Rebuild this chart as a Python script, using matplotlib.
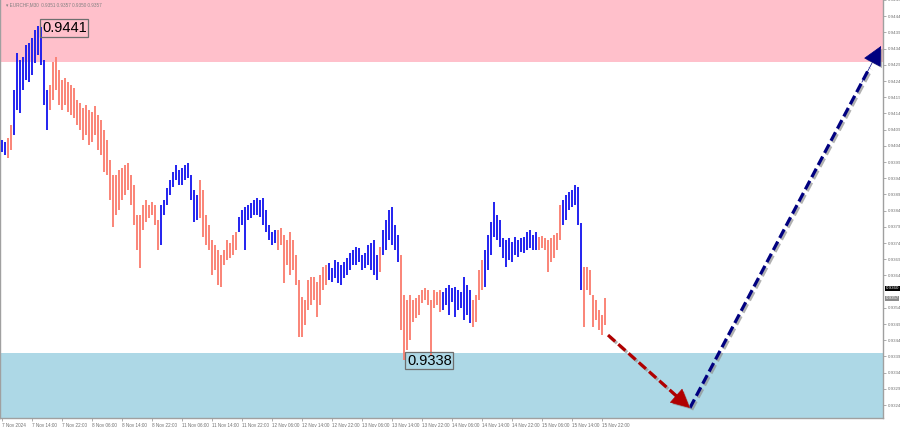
import matplotlib
matplotlib.use("Agg")
import matplotlib.pyplot as plt
import matplotlib.patheffects as pe
import numpy as np

# ---------------- data ----------------
highs = [
    0.94058, 0.94052, 0.94064, 0.94105, 0.94212, 0.94327, 0.94305, 0.94314, 0.94352, 0.94358,
    0.94372, 0.94397, 0.94410, 0.94406, 0.94305, 0.94212, 0.94228, 0.94299, 0.94314, 0.94274,
    0.94243, 0.94249, 0.94237, 0.94228, 0.94218, 0.94181, 0.94172, 0.94156, 0.94166, 0.94150,
    0.94144, 0.94162, 0.94135, 0.94120, 0.94089, 0.94058, 0.93996, 0.93950, 0.93950, 0.93965,
    0.93971, 0.93981, 0.93987, 0.93950, 0.93919, 0.93827, 0.93827, 0.93858, 0.93873, 0.93858,
    0.93867, 0.93858, 0.93811, 0.93858, 0.93873, 0.93909, 0.93934, 0.93959, 0.93981, 0.93965,
    0.93971, 0.93981, 0.93987, 0.93950, 0.93904, 0.93889, 0.93934, 0.93904, 0.93827, 0.93796,
    0.93749, 0.93734, 0.93718, 0.93703, 0.93718, 0.93749, 0.93740, 0.93765, 0.93774, 0.93820,
    0.93842, 0.93851, 0.93858, 0.93864, 0.93873, 0.93879, 0.93873, 0.93879, 0.93842, 0.93796,
    0.93774, 0.93780, 0.93780, 0.93786, 0.93765, 0.93749, 0.93774, 0.93749, 0.93703, 0.93626,
    0.93573, 0.93564, 0.93626, 0.93635, 0.93635, 0.93620, 0.93642, 0.93666, 0.93673, 0.93679,
    0.93663, 0.93688, 0.93682, 0.93673, 0.93682, 0.93693, 0.93709, 0.93718, 0.93727, 0.93724,
    0.93703, 0.93709, 0.93734, 0.93740, 0.93749, 0.93703, 0.93727, 0.93780, 0.93811, 0.93842,
    0.93851, 0.93796, 0.93765, 0.93703, 0.93580, 0.93564, 0.93580, 0.93564, 0.93570, 0.93580,
    0.93595, 0.93601, 0.93595, 0.93564, 0.93595, 0.93589, 0.93595, 0.93589, 0.93601, 0.93611,
    0.93601, 0.93604, 0.93595, 0.93589, 0.93635, 0.93611, 0.93595, 0.93564, 0.93580, 0.93657,
    0.93688, 0.93718, 0.93765, 0.93805, 0.93867, 0.93827, 0.93811, 0.93755, 0.93749, 0.93755,
    0.93743, 0.93758, 0.93749, 0.93755, 0.93758, 0.93774, 0.93780, 0.93765, 0.93774, 0.93758,
    0.93761, 0.93755, 0.93749, 0.93755, 0.93765, 0.93771, 0.93858, 0.93873, 0.93889, 0.93898,
    0.93904, 0.93919, 0.93912, 0.93802, 0.93666, 0.93666, 0.93657, 0.93580, 0.93564, 0.93533,
    0.93518, 0.93570,
]
lows = [
    0.94021, 0.94012, 0.94002, 0.94027, 0.94074, 0.94150, 0.94141, 0.94212, 0.94243, 0.94237,
    0.94259, 0.94296, 0.94321, 0.94290, 0.94166, 0.94089, 0.94150, 0.94181, 0.94212, 0.94166,
    0.94150, 0.94166, 0.94144, 0.94135, 0.94125, 0.94105, 0.94089, 0.94058, 0.94074, 0.94043,
    0.94052, 0.94074, 0.94027, 0.94012, 0.93959, 0.93950, 0.93873, 0.93789, 0.93827, 0.93842,
    0.93873, 0.93889, 0.93904, 0.93858, 0.93796, 0.93718, 0.93663, 0.93780, 0.93805, 0.93817,
    0.93827, 0.93796, 0.93718, 0.93734, 0.93827, 0.93858, 0.93889, 0.93912, 0.93934, 0.93919,
    0.93919, 0.93934, 0.93940, 0.93873, 0.93805, 0.93811, 0.93817, 0.93758, 0.93734, 0.93718,
    0.93642, 0.93657, 0.93611, 0.93604, 0.93673, 0.93688, 0.93693, 0.93703, 0.93718, 0.93774,
    0.93796, 0.93718, 0.93811, 0.93817, 0.93827, 0.93827, 0.93820, 0.93796, 0.93774, 0.93749,
    0.93734, 0.93740, 0.93718, 0.93734, 0.93617, 0.93673, 0.93642, 0.93657, 0.93611, 0.93449,
    0.93449, 0.93487, 0.93533, 0.93549, 0.93564, 0.93511, 0.93549, 0.93595, 0.93611, 0.93626,
    0.93620, 0.93632, 0.93617, 0.93611, 0.93632, 0.93642, 0.93657, 0.93673, 0.93673, 0.93682,
    0.93657, 0.93663, 0.93673, 0.93657, 0.93642, 0.93626, 0.93651, 0.93703, 0.93718, 0.93749,
    0.93734, 0.93718, 0.93682, 0.93471, 0.93380, 0.93410, 0.93441, 0.93496, 0.93508, 0.93518,
    0.93555, 0.93564, 0.93549, 0.93395, 0.93539, 0.93549, 0.93527, 0.93533, 0.93549, 0.93518,
    0.93558, 0.93511, 0.93533, 0.93539, 0.93502, 0.93518, 0.93493, 0.93480, 0.93496, 0.93564,
    0.93595, 0.93604, 0.93657, 0.93703, 0.93758, 0.93749, 0.93727, 0.93693, 0.93666, 0.93688,
    0.93682, 0.93703, 0.93696, 0.93712, 0.93709, 0.93718, 0.93724, 0.93718, 0.93718, 0.93718,
    0.93724, 0.93718, 0.93651, 0.93682, 0.93693, 0.93718, 0.93749, 0.93796, 0.93811, 0.93842,
    0.93851, 0.93858, 0.93796, 0.93595, 0.93480, 0.93595, 0.93580, 0.93480, 0.93502, 0.93471,
    0.93456, 0.93487,
]
wave_starts = [0, 2, 4, 16, 53, 66, 79, 92, 109, 126, 127, 133, 147, 157, 161, 179, 187, 194]
wave_kinds = ["up", "down", "up", "down", "up", "down", "up", "down", "up", "down",
              "up", "down", "up", "down", "up", "down", "up", "down"]

time_labels = ["7 Nov 2024", "7 Nov 14:00", "7 Nov 22:00", "8 Nov 06:00", "8 Nov 14:00",
               "8 Nov 22:00", "11 Nov 06:00", "11 Nov 14:00", "11 Nov 22:00", "12 Nov 06:00",
               "12 Nov 14:00", "12 Nov 22:00", "13 Nov 06:00", "13 Nov 14:00", "13 Nov 22:00",
               "14 Nov 06:00", "14 Nov 14:00", "14 Nov 22:00", "15 Nov 06:00", "15 Nov 14:00",
               "15 Nov 22:00"]
bars_per_label = 10

price_ticks = [0.9449, 0.9444, 0.9439, 0.9434, 0.9429, 0.9424, 0.9419, 0.9414, 0.9409,
               0.9404, 0.9399, 0.9394, 0.9389, 0.9384, 0.9379, 0.9374, 0.9369, 0.9364,
               0.9354, 0.9349, 0.9344, 0.9339, 0.9334, 0.9329, 0.9324]

resistance_zone = (0.9430, 0.9460)
support_zone = (0.9300, 0.9340)
swing_high = (12, 0.9441)
swing_low = (134, 0.9338)
price_boxes = [(0.9360, "0.9360", "black"), (0.9357, "0.9357", "#8c8c8c")]
title_text = "EURCHF,M30  0.9351 0.9357 0.9350 0.9357"

forecast_bars = [202, 229.3, 293.0]
forecast_prices = [0.93456, 0.93231, 0.94348]

# ---------------- figure ----------------
W, H = 900, 429
small = ["Liberation Sans", "DejaVu Sans"]
fig = plt.figure(figsize=(W / 100, H / 100), dpi=100)
fig.patch.set_facecolor("white")
ax = fig.add_axes([0.0, 11 / H, 883 / W, 418 / H])

ax.set_xlim(-2 / 3, 881 / 3)
ax.set_ylim(0.93200, 0.9449)

ax.axhspan(*resistance_zone, color="#FFC0CB", zorder=0, lw=0)
ax.axhspan(*support_zone, color="#ADD8E6", zorder=0, lw=0)

kind_color = {"up": "#1a1aee", "down": "#FA8072"}
bar_colors = []
bounds = wave_starts + [len(highs)]
for i, kind in enumerate(wave_kinds):
    bar_colors += [kind_color[kind]] * (bounds[i + 1] - bounds[i])
xs = np.arange(len(highs))
ax.vlines(xs, lows, highs, colors=bar_colors, lw=1.35, zorder=3)

# labels of swing points
lab_font = dict(family=small, fontsize=10.5, color="black")
ax.text(swing_high[0] + 1.3, swing_high[1] - 0.00006, f"{swing_high[1]:.4f}", va="center", ha="left",
        bbox=dict(boxstyle="square,pad=0.12", fc="none", ec="#6e6e6e", lw=0.9), zorder=6, **lab_font)
ax.text(swing_low[0] + 1.0, swing_low[1] - 0.00003, f"{swing_low[1]:.4f}", va="center", ha="left",
        bbox=dict(boxstyle="square,pad=0.12", fc="none", ec="#6e6e6e", lw=0.9), zorder=6, **lab_font)

# forecast arrows
def dashed_arrow(x0, y0, x1, y1, color):
    f = 0.94
    xm, ym = x0 + (x1 - x0) * f, y0 + (y1 - y0) * f
    ax.plot([x0, xm], [y0, ym], color=color, lw=2.3, dashes=(3, 1.3), solid_capstyle="butt",
            zorder=7, path_effects=[pe.SimpleLineShadow(offset=(1.3, -1.3), shadow_color="#909090", alpha=0.7),
                                    pe.Normal()])
    g = 0.9
    ax.annotate("", xy=(x1, y1), xytext=(x0 + (x1 - x0) * g, y0 + (y1 - y0) * g),
                arrowprops=dict(arrowstyle="-|>,head_length=0.9,head_width=0.45", color=color,
                                lw=0.5, mutation_scale=14, shrinkA=0, shrinkB=0,
                                path_effects=[pe.withSimplePatchShadow(offset=(1.3, -1.3),
                                                                       shadow_rgbFace="#909090", alpha=0.7)]),
                zorder=8)

dashed_arrow(forecast_bars[0], forecast_prices[0], forecast_bars[1], forecast_prices[1], "#B00000")
dashed_arrow(forecast_bars[1], forecast_prices[1], forecast_bars[2], forecast_prices[2], "#000080")

# axes styling
ax.spines["top"].set_visible(False)
for s in ["left", "right", "bottom"]:
    ax.spines[s].set_color("#a0a0a0")
    ax.spines[s].set_linewidth(1.0)

ax.yaxis.tick_right()
ax.set_yticks(price_ticks)
ax.set_yticklabels([f"{p:.4f}" for p in price_ticks], family=small)
ax.tick_params(axis="y", which="both", direction="out", length=2, width=0.6, colors="#a0a0a0",
               labelcolor="#707070", labelsize=3.2, pad=1.5)

tick_pos = np.arange(len(time_labels)) * bars_per_label
ax.set_xticks(tick_pos)
ax.set_xticklabels(time_labels, family=small)
for t in ax.get_xticklabels():
    t.set_ha("left")
ax.tick_params(axis="x", direction="out", length=2, width=0.6, colors="#a0a0a0",
               labelcolor="#707070", labelsize=3.3, pad=1.5)

# current price boxes on the right scale
for val, txt, col in price_boxes:
    ax.text(1.003, val, txt, transform=ax.get_yaxis_transform(), fontsize=3.2, family=small,
            color="white", va="center", ha="left",
            bbox=dict(boxstyle="square,pad=0.12", fc=col, ec="none"), clip_on=False, zorder=9)

fig.text(6 / W, 1 - 5 / H, "\u25be " + title_text, fontsize=3.3, color="#808080", va="center",
         ha="left", family=small)

fig.savefig("out.png", dpi=100)
